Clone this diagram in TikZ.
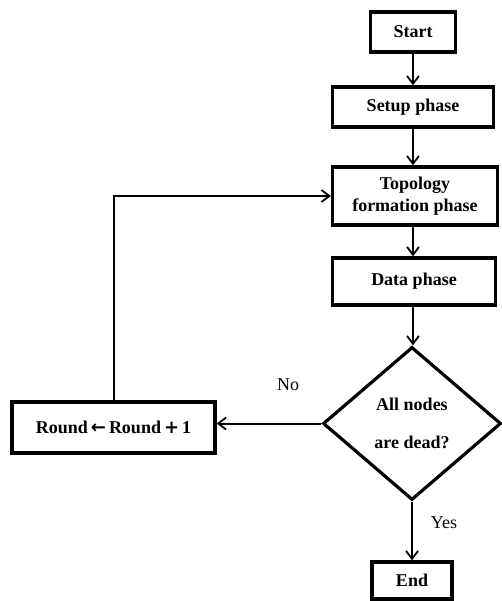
\documentclass[tikz,border=0pt]{standalone}
\usepackage{fontspec}
\setmainfont{Liberation Serif}
\newfontfamily\arrowfont{DejaVu Sans}
\usetikzlibrary{shapes.geometric,arrows.meta}
\tikzset{
  box/.style={draw, line width=3.2pt, inner sep=0pt, align=center, font=\fontsize{18}{22}\selectfont\bfseries},
  conn/.style={line width=2pt, -{Straight Barb[length=8pt,width=12pt,line width=1.8pt]}},
  lbl/.style={font=\fontsize{18}{21}\selectfont}
}
\begin{document}
\begin{tikzpicture}[x=1pt,y=-1pt]
\useasboundingbox (0,0) rectangle (501,601);
\node[box, minimum width=85pt, minimum height=40pt] (start) at (413,32) {Start};
\node[box, minimum width=161pt, minimum height=40pt] (setup) at (413,107) {Setup phase};
\node[box, minimum width=165pt, minimum height=58pt] (topo) at (415,196) {Topology\\formation phase};
\node[box, minimum width=163pt, minimum height=47pt] (data) at (414,281.5) {Data phase};
\node[draw, diamond, line width=3.2pt, inner sep=0pt, minimum width=178pt, minimum height=153pt] (dia) at (412,423.5) {};
\node[font=\fontsize{18}{38}\selectfont\bfseries, align=center] (diatext) at (dia.center) {All nodes\\are dead?};
\node[box, minimum width=203pt, minimum height=51pt] (round) at (113.5,427.5) {Round\,{\arrowfont\bfseries ←}\,Round\,{\arrowfont\bfseries +}\,1};
\node[box, minimum width=80pt, minimum height=37pt] (end) at (412,580.5) {End};
\draw[conn] (start.south -| 413,0) -- (setup.north -| 413,0);
\draw[conn] (setup.south -| 413,0) -- (topo.north -| 413,0);
\draw[conn] (topo.south -| 413,0) -- (data.north -| 413,0);
\draw[conn] (data.south -| 413,0) -- (dia.north -| 413,0);
\draw[conn] (dia.west) -- (dia.west -| round.east);
\draw[conn] (dia.south) -- (end.north);
\draw[conn] (round.north) -- (round.north |- topo.west) -- (topo.west);
\node[lbl] (no) at (288,385) {No};
\node[lbl] (yes) at (444,523) {Yes};
\end{tikzpicture}
\end{document}
